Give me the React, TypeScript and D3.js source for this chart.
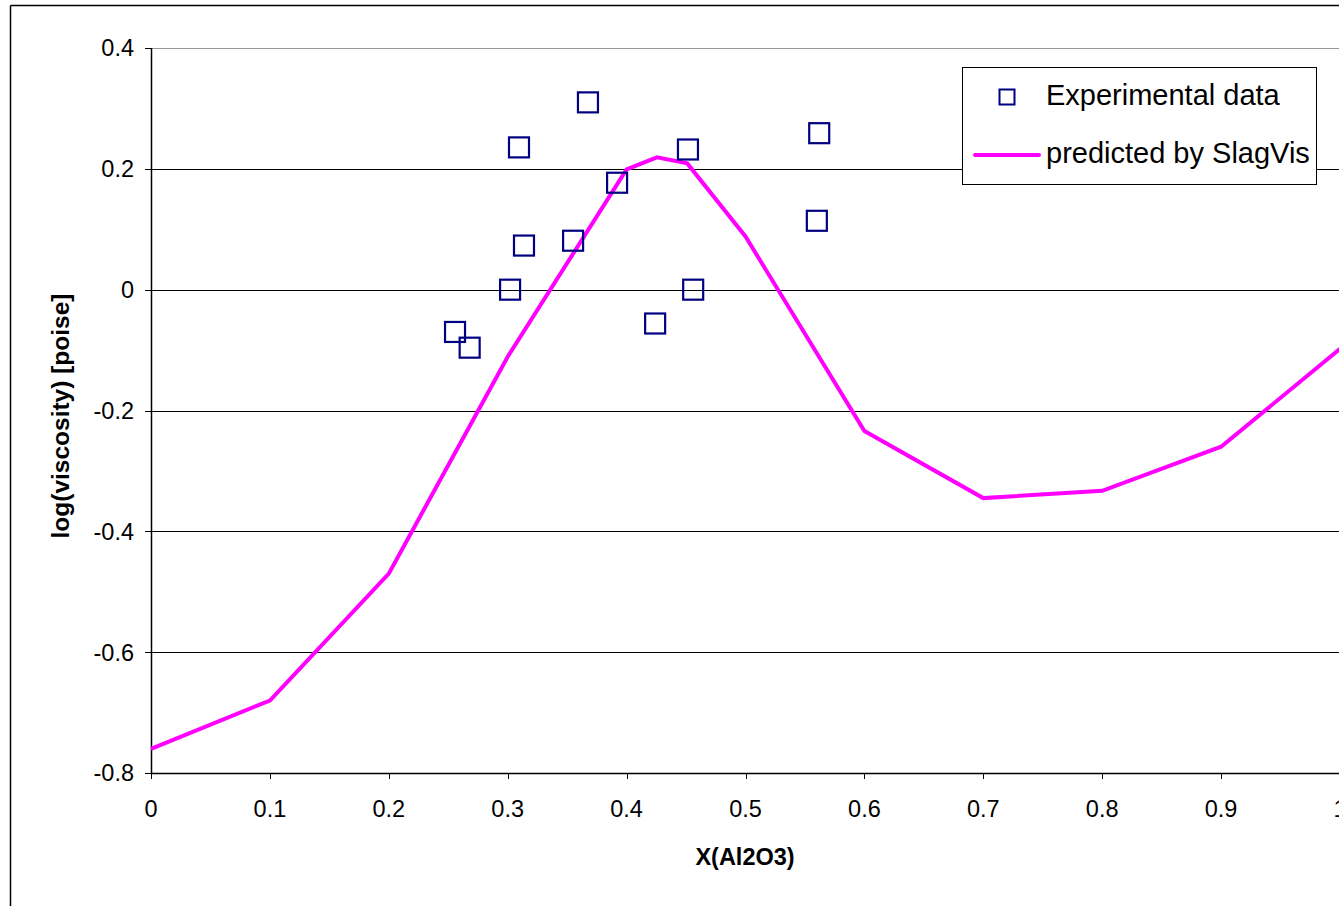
import React from "react";
import * as d3 from "d3";

const expX = [0.3675, 0.3095, 0.4516, 0.392, 0.3137, 0.355, 0.302, 0.456, 0.424, 0.2557, 0.268, 0.562, 0.560];
const expY = [0.310, 0.2355, 0.232, 0.177, 0.073, 0.081, 0.0, 0.0, -0.056, -0.07, -0.096, 0.259, 0.114];

const predX = [0, 0.1, 0.2, 0.3, 0.4, 0.4255, 0.451, 0.5, 0.6, 0.7, 0.8, 0.9, 1.0];
const predY = [-0.76, -0.68, -0.47, -0.111, 0.199, 0.219, 0.209, 0.088, -0.234, -0.345, -0.333, -0.26, -0.098];

const xTicks = [0, 0.1, 0.2, 0.3, 0.4, 0.5, 0.6, 0.7, 0.8, 0.9, 1];
const yTicks = [0.4, 0.2, 0, -0.2, -0.4, -0.6, -0.8];

const W = 1339;
const H = 906;
const FONT = "'Liberation Sans', Arial, sans-serif";

export default function App() {
  const x = d3.scaleLinear().domain([0, 1]).range([151, 1340]);
  const y = d3.scaleLinear().domain([-0.8, 0.4]).range([773, 48]);
  const line = d3
    .line<number>()
    .x((_, i) => x(predX[i]))
    .y((d) => y(d));
  const fmt = (v: number) => String(+v.toFixed(1));

  return (
    <svg
      width={W}
      height={H}
      style={{ position: "absolute", left: 0, top: 0, background: "#fff" }}
      fontFamily={FONT}
    >
      <rect x={0} y={0} width={W} height={H} fill="#fff" />
      {/* outer frame */}
      <line x1={10.5} y1={5.5} x2={10.5} y2={H} stroke="#000" strokeWidth={1.5} />
      <line x1={10.5} y1={5.5} x2={W} y2={5.5} stroke="#000" strokeWidth={1.5} />

      {/* gridlines */}
      {yTicks.map((t) => (
        <line
          key={"g" + t}
          x1={x(0)}
          x2={W}
          y1={Math.round(y(t)) + 0.5}
          y2={Math.round(y(t)) + 0.5}
          stroke={t === 0.4 ? "#999" : "#000"}
          strokeWidth={1}
        />
      ))}

      {/* axes */}
      <line x1={x(0) + 0.5} x2={x(0) + 0.5} y1={y(0.4)} y2={y(-0.8)} stroke="#000" strokeWidth={1.5} />
      <line x1={x(0)} x2={W} y1={Math.round(y(-0.8)) + 0.5} y2={Math.round(y(-0.8)) + 0.5} stroke="#000" strokeWidth={1.5} />
      {yTicks.map((t) => (
        <g key={"yt" + t}>
          <line
            x1={x(0) - 6}
            x2={x(0)}
            y1={Math.round(y(t)) + 0.5}
            y2={Math.round(y(t)) + 0.5}
            stroke="#000"
          />
          <text
            x={134}
            y={y(t)}
            dy="0.36em"
            textAnchor="end"
            fontSize={23.5}
            fill="#000"
          >
            {fmt(t)}
          </text>
        </g>
      ))}
      {xTicks.map((t) => (
        <g key={"xt" + t}>
          <line
            x1={Math.round(x(t)) + 0.5}
            x2={Math.round(x(t)) + 0.5}
            y1={y(-0.8)}
            y2={y(-0.8) + 6}
            stroke="#000"
          />
          <text x={x(t)} y={817} textAnchor="middle" fontSize={23.5} fill="#000">
            {fmt(t)}
          </text>
        </g>
      ))}

      {/* axis titles */}
      <text x={745} y={865} textAnchor="middle" fontSize={23.5} fontWeight="bold" fill="#000">
        X(Al2O3)
      </text>
      <text
        transform={`translate(69,416) rotate(-90)`}
        textAnchor="middle"
        fontSize={24.5}
        fontWeight="bold"
        fill="#000"
      >
        log(viscosity) [poise]
      </text>

      {/* predicted line */}
      <path d={line(predY) || ""} fill="none" stroke="#FF00FF" strokeWidth={4} strokeLinejoin="miter" />

      {/* experimental points */}
      {expX.map((v, i) => (
        <rect
          key={"p" + i}
          x={x(v) - 10}
          y={y(expY[i]) - 10}
          width={20}
          height={20}
          fill="none"
          stroke="#000080"
          strokeWidth={2.2}
        />
      ))}

      {/* legend */}
      <rect x={962.5} y={67.5} width={354} height={117} fill="#fff" stroke="#000" strokeWidth={1} />
      <rect x={999.5} y={89.5} width={15} height={15} fill="none" stroke="#000080" strokeWidth={2} />
      <text x={1046} y={95} dy="0.36em" fontSize={29} fill="#000">
        Experimental data
      </text>
      <line x1={975} x2={1039} y1={155} y2={155} stroke="#FF00FF" strokeWidth={4} strokeLinecap="round" />
      <text x={1046} y={153} dy="0.36em" fontSize={29} fill="#000">
        predicted by SlagVis
      </text>
    </svg>
  );
}
